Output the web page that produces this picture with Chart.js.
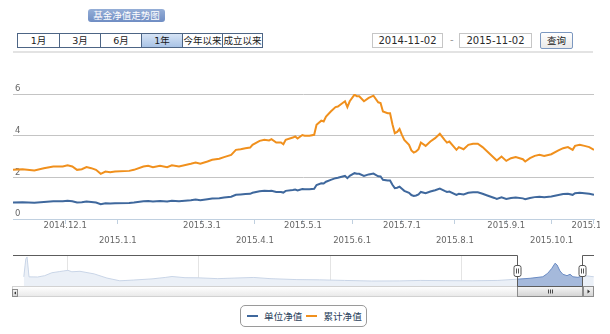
<!DOCTYPE html>
<html>
<head>
<meta charset="utf-8">
<title>基金净值走势图</title>
<script src="https://cdn.jsdelivr.net/npm/chart.js@4.4.1/dist/chart.umd.min.js"></script>
<style>
  html, body { margin: 0; padding: 0; background: #fff; }
  body { width: 610px; height: 334px; position: relative; overflow: hidden;
         font-family: "DejaVu Sans", "Noto Sans CJK SC", sans-serif; }
  .abs { position: absolute; box-sizing: border-box; }
  #title { left: 88px; top: 9px; width: 77px; height: 13px; line-height: 13px; border-radius: 3px;
           background: linear-gradient(#95aed7, #6f8dc3); color: #fff; font-size: 9.5px; text-align: center;
           font-family: "Noto Sans CJK SC", sans-serif; }
  #ranges { left: 17px; top: 33px; height: 15px; border: 1px solid #4d6585; display: flex; }
  #ranges div { box-sizing: border-box; height: 13px; line-height: 13px; text-align: center; font-size: 9.5px;
                color: #1a1a1a; border-left: 1px solid #4d6585; font-family: "DejaVu Sans", "Noto Sans CJK SC", sans-serif; }
  #ranges div:first-child { border-left: none; }
  #ranges div.on { background: linear-gradient(#d6e4f5, #a9c3e6); }
  #sep { left: 13px; top: 51px; width: 580px; height: 2px; background: #e3e3e3; }
  .datebox { top: 33px; height: 15px; border: 1px solid #c6c6c6; font-size: 10px; line-height: 13px;
             text-align: center; color: #2a2a2a; }
  #dash { left: 450px; top: 34px; font-size: 10px; color: #999; }
  #query { left: 540px; top: 32px; width: 33px; height: 17px; border: 1px solid #7c98c0; border-radius: 2px;
           background: linear-gradient(#ffffff, #e9e9e9); font-size: 9.5px; line-height: 15px; text-align: center;
           color: #1a1a1a; font-family: "Noto Sans CJK SC", sans-serif; }
  #main { left: 0; top: 60px; }
  #nav { left: 0; top: 250px; }
  #legend { left: 240px; top: 305px; width: 127px; height: 22px; border: 1px solid #9a9a9a; border-radius: 5px;
            display: flex; align-items: center; padding-left: 6px; }
  #legend .item { display: flex; align-items: center; margin-right: 4px; }
  #legend .mark { width: 11px; height: 2px; margin-right: 6px; }
  #legend .txt { font-family: "Noto Sans CJK SC", sans-serif; font-size: 9.6px; color: #2b3f5c; }
</style>
</head>
<body>
<div id="title" class="abs">基金净值走势图</div>
<div id="ranges" class="abs"></div>
<div id="sep" class="abs"></div>
<div id="from" class="abs datebox" style="left:372px;width:71px;"></div>
<div id="dash" class="abs">-</div>
<div id="to" class="abs datebox" style="left:459px;width:73px;"></div>
<div id="query" class="abs">查询</div>
<canvas id="main" class="abs" width="600" height="190"></canvas>
<canvas id="nav" class="abs" width="600" height="50"></canvas>
<div id="legend" class="abs"></div>

<script>
// ---- Range selector ----
const rangeButtons = ['1月', '3月', '6月', '1年', '今年以来', '成立以来'];
const activeRange = '1年';
const rangeFrom = '2014-11-02';
const rangeTo = '2015-11-02';

// ---- Daily NAV over the selected year (trading dates) ----
const navDates = [
  '2014-10-30','2014-11-05','2014-11-12','2014-11-18','2014-11-24','2014-11-28',
  '2014-12-02','2014-12-04','2014-12-08','2014-12-10','2014-12-12','2014-12-16','2014-12-18',
  '2014-12-22','2014-12-24','2014-12-26','2014-12-30',
  '2015-01-09','2015-01-13','2015-01-19','2015-01-21','2015-01-23','2015-01-28',
  '2015-02-02','2015-02-04','2015-02-09','2015-02-16','2015-02-25','2015-02-27',
  '2015-03-04','2015-03-06','2015-03-11','2015-03-13','2015-03-18','2015-03-20','2015-03-24',
  '2015-03-26','2015-03-30','2015-03-31',
  '2015-04-03','2015-04-08','2015-04-10','2015-04-13','2015-04-15','2015-04-17','2015-04-20',
  '2015-04-21','2015-04-24','2015-04-27','2015-04-28','2015-04-30',
  '2015-05-04','2015-05-06','2015-05-08','2015-05-11','2015-05-13','2015-05-14','2015-05-15',
  '2015-05-19','2015-05-21','2015-05-22','2015-05-26','2015-05-27','2015-05-28','2015-05-29',
  '2015-06-02','2015-06-03','2015-06-04','2015-06-08','2015-06-10','2015-06-12','2015-06-16',
  '2015-06-17','2015-06-18','2015-06-23','2015-06-24','2015-06-25','2015-06-26','2015-06-29',
  '2015-06-30',
  '2015-07-01','2015-07-02','2015-07-06','2015-07-07','2015-07-08','2015-07-09','2015-07-10',
  '2015-07-13','2015-07-15','2015-07-17','2015-07-21','2015-07-23','2015-07-27','2015-07-28',
  '2015-07-29',
  '2015-08-03','2015-08-04','2015-08-06','2015-08-10','2015-08-12','2015-08-14','2015-08-18',
  '2015-08-20','2015-08-25','2015-08-26','2015-08-28',
  '2015-09-01','2015-09-07','2015-09-09','2015-09-14','2015-09-15','2015-09-17','2015-09-21',
  '2015-09-23','2015-09-25','2015-09-30',
  '2015-10-12','2015-10-14','2015-10-16','2015-10-20','2015-10-21','2015-10-23','2015-10-27',
  '2015-10-29','2015-11-02'
];
const unitNav = [
  0.79,0.80,0.78,0.82,0.85,0.85,
  0.88,0.85,0.79,0.80,0.84,0.82,0.79,
  0.71,0.76,0.75,0.76,
  0.77,0.79,0.85,0.86,0.84,0.86,
  0.84,0.88,0.85,0.90,0.93,0.90,
  0.95,0.98,1.00,1.03,1.07,1.16,1.18,
  1.20,1.21,1.26,
  1.33,1.35,1.34,1.36,1.30,1.30,1.27,
  1.35,1.39,1.41,1.37,1.44,
  1.43,1.43,1.45,1.63,1.71,1.70,1.79,
  1.88,1.96,1.98,2.04,2.07,1.96,2.07,
  2.20,2.17,2.17,2.07,2.14,2.18,2.05,
  2.04,1.88,1.85,1.85,1.64,1.48,1.50,
  1.55,
  1.45,1.35,1.26,1.15,1.11,1.13,1.18,
  1.30,1.24,1.32,1.38,1.46,1.35,1.30,
  1.32,
  1.16,1.21,1.18,1.26,1.28,1.28,1.21,
  1.13,1.01,0.96,1.04,
  0.96,1.01,1.03,0.99,0.95,1.01,1.05,
  1.07,1.05,1.08,
  1.15,1.20,1.21,1.16,1.24,1.26,1.24,
  1.21,1.16
];
const accNav = [
  2.36,2.39,2.33,2.44,2.52,2.52,
  2.58,2.52,2.36,2.39,2.49,2.44,2.36,
  2.17,2.28,2.25,2.28,
  2.31,2.36,2.52,2.55,2.49,2.55,
  2.49,2.58,2.52,2.65,2.71,2.65,
  2.76,2.84,2.89,2.97,3.08,3.32,3.35,
  3.40,3.43,3.56,
  3.75,3.80,3.77,3.83,3.67,3.67,3.59,
  3.80,3.91,3.96,3.86,4.03,
  4.00,4.00,4.04,4.52,4.72,4.68,4.92,
  5.16,5.37,5.40,5.57,5.65,5.37,5.65,
  5.97,5.89,5.89,5.65,5.81,5.92,5.60,
  5.57,5.16,5.08,5.08,4.55,4.12,4.18,
  4.32,
  4.04,3.80,3.56,3.29,3.19,3.24,3.35,
  3.67,3.51,3.72,3.88,4.09,3.80,3.67,
  3.72,
  3.32,3.45,3.35,3.56,3.61,3.61,3.45,
  3.24,2.92,2.81,3.00,
  2.79,2.92,2.97,2.87,2.76,2.92,3.03,
  3.08,3.03,3.11,
  3.29,3.40,3.45,3.32,3.51,3.56,3.51,
  3.45,3.32
];

// Weekday market closures inside the period
const closedDays = [
  '2015-01-01','2015-01-02',
  '2015-02-18','2015-02-19','2015-02-20','2015-02-23','2015-02-24',
  '2015-04-06','2015-05-01','2015-06-22','2015-09-03','2015-09-04',
  '2015-10-01','2015-10-02','2015-10-05','2015-10-06','2015-10-07'
];

// Month ticks on the main x axis
const monthTicks = ['2014-12-01','2015-01-01','2015-03-01','2015-04-01','2015-05-01','2015-06-01',
                    '2015-07-01','2015-08-01','2015-09-01','2015-10-01','2015-11-01'];
const monthLabels = ['2014.12.1','2015.1.1','2015.3.1','2015.4.1','2015.5.1','2015.6.1',
                     '2015.7.1','2015.8.1','2015.9.1','2015.10.1','2015.11.1'];

// ---- Full history of unit NAV for the navigator ----
const historyStart = '2007-03-05';
const historyEnd = '2016-01-05';
const historyDates = [
  '2007-05-04','2007-05-15','2007-05-22','2007-06-02','2007-07-20','2007-08-28','2007-10-07',
  '2007-11-20','2007-12-12','2008-01-04','2008-01-26','2008-03-11','2008-05-29','2008-08-08',
  '2008-10-19','2009-01-01','2009-04-16','2009-06-28','2009-08-05','2009-10-16','2009-12-28',
  '2010-04-16','2010-07-20','2010-11-02','2011-01-31','2011-06-29','2011-11-02','2012-03-20',
  '2012-08-18','2013-01-22','2013-05-15','2013-10-05','2014-02-27','2014-07-20','2014-10-30',
  '2015-01-15','2015-03-27','2015-04-23','2015-05-16','2015-06-03','2015-06-14','2015-06-30',
  '2015-07-16','2015-08-08','2015-08-25','2015-09-10','2015-10-08','2015-11-03','2015-12-01',
  '2016-01-04'
];
const historyNav = [
  0.95,2.45,2.63,0.95,0.94,1.05,1.30,
  1.40,1.45,1.50,1.38,1.42,1.20,0.85,
  0.62,0.68,0.78,0.90,0.98,0.88,0.87,
  0.80,0.85,0.90,0.80,0.72,0.70,0.65,
  0.60,0.61,0.65,0.63,0.62,0.65,0.75,
  0.83,0.96,1.25,1.67,2.10,1.95,1.45,
  1.17,1.05,1.17,0.96,0.91,1.05,1.02,
  0.96
];
const historyYears = [2008, 2010, 2012, 2014];

const BLUE = '#3f689d';
const ORANGE = '#f0901d';

// ---- Date helpers ----
const DAY = 86400000;
const parseDay = s => { const [y, m, d] = s.split('-').map(Number); return Date.UTC(y, m - 1, d); };
const isoDay = t => new Date(t).toISOString().slice(0, 10);
const decYear = s => {
  const y = Number(s.slice(0, 4));
  const t0 = Date.UTC(y, 0, 1), t1 = Date.UTC(y + 1, 0, 1);
  return y + (parseDay(s) - t0) / (t1 - t0);
};

// Trading sessions: the main axis is ordinal (one slot per session)
function tradingCalendar(from, to, closed) {
  const shut = new Set(closed);
  const days = [];
  for (let t = parseDay(from); t <= parseDay(to); t += DAY) {
    const wd = new Date(t).getUTCDay();
    if (wd === 0 || wd === 6 || shut.has(isoDay(t))) continue;
    days.push(t);
  }
  return days;
}
const calendar = tradingCalendar(navDates[0], navDates[navDates.length - 1], closedDays);
function sessionPos(s) {
  const t = parseDay(s);
  for (let i = 0; i < calendar.length; i++) {
    if (calendar[i] === t) return i;
    if (calendar[i] > t) return i === 0 ? 0 : i - 1 + (t - calendar[i - 1]) / (calendar[i] - calendar[i - 1]);
  }
  return calendar.length - 1;
}

// ---- Header widgets ----
const rangesEl = document.getElementById('ranges');
rangeButtons.forEach((label, i) => {
  const b = document.createElement('div');
  b.textContent = label;
  b.style.width = (i < 4 ? 41 : 40) + 'px';
  if (label === activeRange) b.className = 'on';
  rangesEl.appendChild(b);
});
document.getElementById('from').textContent = rangeFrom;
document.getElementById('to').textContent = rangeTo;

Chart.defaults.font.family = '"DejaVu Sans", sans-serif';

// ---- Main NAV chart ----
const tickPos = monthTicks.map(sessionPos);
const mainChart = new Chart(document.getElementById('main'), {
  type: 'line',
  data: {
    datasets: [
      { label: '单位净值', data: navDates.map((d, i) => ({ x: sessionPos(d), y: unitNav[i] })),
        borderColor: BLUE, backgroundColor: BLUE, borderWidth: 2, pointRadius: 0, tension: 0, fill: false },
      { label: '累计净值', data: navDates.map((d, i) => ({ x: sessionPos(d), y: accNav[i] })),
        borderColor: ORANGE, backgroundColor: ORANGE, borderWidth: 2, pointRadius: 0, tension: 0, fill: false }
    ]
  },
  options: {
    responsive: false, animation: false, events: [],
    layout: { padding: { left: 13, right: 6, top: 34, bottom: 0 } },
    plugins: { legend: { display: false }, tooltip: { enabled: false } },
    scales: {
      x: {
        type: 'linear', min: 0, max: calendar.length - 1,
        afterBuildTicks: s => { s.ticks = tickPos.map(v => ({ value: v })); },
        afterFit: s => { s.height = 31; s.paddingLeft = 0; s.paddingRight = 0; },
        grid: { drawOnChartArea: false, drawTicks: true, tickLength: 5, tickColor: '#c0d0e0', tickWidth: 1 },
        border: { color: '#c0d0e0', width: 1 },
        ticks: {
          autoSkip: false, maxRotation: 0, minRotation: 0, padding: -5.5, color: '#666',
          font: { size: 8.5, lineHeight: '15px' },
          callback: (v, i) => (i % 2 ? ['', monthLabels[i]] : monthLabels[i])
        }
      },
      y: {
        min: 0, max: 6,
        afterFit: s => { s.width = 0; s.paddingTop = 0; s.paddingBottom = 0; },
        ticks: { stepSize: 2, mirror: true, padding: 2, labelOffset: -5, color: '#666', font: { size: 8.5 } },
        grid: { drawTicks: false, lineWidth: 1,
                color: c => (c.tick && c.tick.value === 0 ? 'rgba(0,0,0,0)' : '#c4c4c4') },
        border: { display: false }
      }
    }
  }
});

// ---- Navigator ----
function bandPaint(ctx, outside, inside) {
  const chart = ctx.chart;
  const a = chart.chartArea;
  const xs = chart.scales && chart.scales.x;
  if (!a || !xs) return outside;
  const f = p => Math.min(1, Math.max(0, (p - a.left) / (a.right - a.left)));
  const l = f(xs.getPixelForValue(decYear(rangeFrom)));
  const r = f(xs.getPixelForValue(decYear(rangeTo)));
  const g = chart.ctx.createLinearGradient(a.left, 0, a.right, 0);
  g.addColorStop(0, outside); g.addColorStop(l, outside);
  g.addColorStop(l, inside); g.addColorStop(r, inside);
  g.addColorStop(r, outside); g.addColorStop(1, outside);
  return g;
}

function roundRect(ctx, x, y, w, h, r) {
  ctx.beginPath();
  ctx.moveTo(x + r, y);
  ctx.arcTo(x + w, y, x + w, y + h, r);
  ctx.arcTo(x + w, y + h, x, y + h, r);
  ctx.arcTo(x, y + h, x, y, r);
  ctx.arcTo(x, y, x + w, y, r);
  ctx.closePath();
}

const navigatorFrame = {
  id: 'navigatorFrame',
  afterDraw(chart) {
    const { ctx, chartArea: a, scales: { x } } = chart;
    const hl = Math.round(x.getPixelForValue(decYear(rangeFrom))) + 0.5;
    const hr = Math.round(x.getPixelForValue(decYear(rangeTo))) + 0.5;
    const top = a.top - 0.5;
    const bot = Math.round(a.bottom) + 0.5;
    const sbH = 10;
    ctx.save();
    ctx.lineWidth = 1;

    // scrollbar track
    let g = ctx.createLinearGradient(0, bot, 0, bot + sbH);
    g.addColorStop(0, '#ffffff'); g.addColorStop(1, '#e9e9e9');
    ctx.fillStyle = g;
    ctx.fillRect(a.left - 1, bot, a.right - a.left + 1, sbH);
    ctx.strokeStyle = '#d2d2d2';
    ctx.strokeRect(a.left - 0.5, bot, a.right - a.left, sbH);

    // scrollbar thumb
    g = ctx.createLinearGradient(0, bot, 0, bot + sbH);
    g.addColorStop(0, '#f6f6f6'); g.addColorStop(1, '#d3d3d3');
    ctx.fillStyle = g;
    ctx.fillRect(hl, bot, hr - hl, sbH);
    ctx.strokeStyle = '#8c8c8c';
    ctx.strokeRect(hl, bot, hr - hl, sbH);
    const cx = Math.round((hl + hr) / 2) + 0.5;
    ctx.strokeStyle = '#4a4a4a';
    [-2, 0, 2].forEach(dx => {
      ctx.beginPath(); ctx.moveTo(cx + dx, bot + 3); ctx.lineTo(cx + dx, bot + sbH - 3); ctx.stroke();
    });

    // scrollbar buttons
    const lb = { x: a.left - 0.5, y: bot + 3, w: 5, h: 7 };
    g = ctx.createLinearGradient(0, lb.y, 0, lb.y + lb.h);
    g.addColorStop(0, '#f4f4f4'); g.addColorStop(1, '#d6d6d6');
    ctx.fillStyle = g; ctx.fillRect(lb.x, lb.y, lb.w, lb.h);
    ctx.strokeStyle = '#8c8c8c'; ctx.strokeRect(lb.x, lb.y, lb.w, lb.h);
    ctx.fillStyle = '#333';
    ctx.beginPath(); ctx.moveTo(lb.x + 1.5, lb.y + 3.5); ctx.lineTo(lb.x + 3.5, lb.y + 2); ctx.lineTo(lb.x + 3.5, lb.y + 5); ctx.fill();

    const rb = { x: Math.round(a.right) - 10.5, y: bot, w: 10, h: sbH };
    g = ctx.createLinearGradient(0, rb.y, 0, rb.y + rb.h);
    g.addColorStop(0, '#f4f4f4'); g.addColorStop(1, '#d3d3d3');
    ctx.fillStyle = g; ctx.fillRect(rb.x, rb.y, rb.w, rb.h);
    ctx.strokeStyle = '#8c8c8c'; ctx.strokeRect(rb.x, rb.y, rb.w, rb.h);
    ctx.fillStyle = '#333';
    ctx.beginPath(); ctx.moveTo(rb.x + 6.5, rb.y + 5); ctx.lineTo(rb.x + 4, rb.y + 3); ctx.lineTo(rb.x + 4, rb.y + 7); ctx.fill();

    // outline around the selected window
    ctx.strokeStyle = '#5c5c5c';
    ctx.beginPath();
    ctx.moveTo(a.left, top); ctx.lineTo(hl, top); ctx.lineTo(hl, bot);
    ctx.lineTo(hr, bot); ctx.lineTo(hr, top); ctx.lineTo(a.right, top);
    ctx.stroke();

    // handles
    [hl, hr].forEach(h => {
      roundRect(ctx, h - 3.5, a.top + 9.5, 7, 11, 2);
      ctx.fillStyle = '#fff'; ctx.fill();
      ctx.strokeStyle = '#555'; ctx.stroke();
      [-1, 1].forEach(dx => {
        ctx.beginPath(); ctx.moveTo(h + dx, a.top + 12.5); ctx.lineTo(h + dx, a.top + 17.5); ctx.stroke();
      });
    });
    ctx.restore();
  }
};

new Chart(document.getElementById('nav'), {
  type: 'line',
  data: {
    datasets: [{
      label: '单位净值',
      data: historyDates.map((d, i) => ({ x: decYear(d), y: historyNav[i] })),
      borderWidth: 1, pointRadius: 0, tension: 0, fill: 'start',
      borderColor: ctx => bandPaint(ctx, '#c9d5e7', '#6a8bc3'),
      backgroundColor: ctx => bandPaint(ctx, '#ebf0f7', '#a5b9db')
    }]
  },
  options: {
    responsive: false, animation: false, events: [],
    layout: { padding: { left: 13, right: 6, top: 6, bottom: 14 } },
    plugins: { legend: { display: false }, tooltip: { enabled: false } },
    scales: {
      x: {
        type: 'linear', min: decYear(historyStart), max: decYear(historyEnd),
        afterBuildTicks: s => { s.ticks = historyYears.map(v => ({ value: v })); },
        afterFit: s => { s.height = 0; s.paddingLeft = 0; s.paddingRight = 0; },
        grid: { drawTicks: false, color: '#e4e4e4' },
        border: { display: false },
        ticks: { z: 1, align: 'start', labelOffset: 3, padding: -11, color: '#666', autoSkip: false,
                 maxRotation: 0, minRotation: 0, font: { size: 8.5, lineHeight: '10px' },
                 callback: v => String(v) }
      },
      y: { display: false, min: 0.18, max: 2.71 }
    }
  },
  plugins: [navigatorFrame]
});

// ---- Legend ----
const legendEl = document.getElementById('legend');
mainChart.data.datasets.forEach(ds => {
  const item = document.createElement('div');
  item.className = 'item';
  const mark = document.createElement('span');
  mark.className = 'mark';
  mark.style.background = ds.borderColor;
  const txt = document.createElement('span');
  txt.className = 'txt';
  txt.textContent = ds.label;
  item.appendChild(mark); item.appendChild(txt);
  legendEl.appendChild(item);
});
</script>
</body>
</html>
